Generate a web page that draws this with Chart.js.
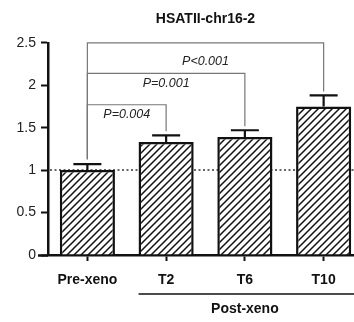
<!DOCTYPE html>
<html><head><meta charset="utf-8">
<script src="https://cdn.jsdelivr.net/npm/chart.js@4"></script>
<style>html,body{margin:0;padding:0;overflow:hidden;background:#fff;width:354px;height:322px}
#wrap{width:364px;height:322px;position:relative}</style></head>
<body><div id="wrap"><canvas id="c" width="364" height="322"></canvas></div>
<script>
const categories = ['Pre-xeno', 'T2', 'T6', 'T10'];
const means = [1.00, 1.33, 1.39, 1.75];
const errors = [0.07, 0.08, 0.08, 0.13];
const yTickValues = [0, 0.5, 1, 1.5, 2, 2.5];
const yTickLabels = ['0', '0.5', '1', '1.5', '2', '2.5'];
const compareFrom = [0, 0, 0];
const compareTo = [1, 2, 3];
const pLabels = ['P=0.004', 'P=0.001', 'P<0.001'];
const bracketLevels = [1.77, 2.14, 2.5];
const referenceLevel = 1;
const groupLabel = 'Post-xeno';
const groupMembers = [1, 3];
const titleText = 'HSATII-chr16-2';

const labelDrop = [10, 10, 19];
const FONT = '"Liberation Sans", Arial, Helvetica, sans-serif';

function hatch() {
  const s = 7, c = document.createElement('canvas');
  c.width = s; c.height = s;
  const x = c.getContext('2d');
  x.fillStyle = '#fff'; x.fillRect(0, 0, s, s);
  x.strokeStyle = '#111'; x.lineWidth = 1.5;
  x.beginPath();
  x.moveTo(-1, s + 1); x.lineTo(s + 1, -1);
  x.moveTo(-1, 1); x.lineTo(1, -1);
  x.moveTo(s - 1, s + 1); x.lineTo(s + 1, s - 1);
  x.stroke();
  return x.createPattern(c, 'repeat');
}

const extras = {
  id: 'extras',
  beforeDatasetsDraw(chart) {
    const { ctx, chartArea, scales } = chart;
    const y = scales.y.getPixelForValue(referenceLevel);
    ctx.save();
    ctx.strokeStyle = '#333'; ctx.lineWidth = 1.5; ctx.setLineDash([2, 2.5]);
    ctx.beginPath(); ctx.moveTo(chartArea.left + 2, y); ctx.lineTo(chartArea.right + 5, y); ctx.stroke();
    ctx.restore();
  },
  afterDatasetsDraw(chart) {
    const { ctx, chartArea, scales } = chart;
    const xs = scales.x, ys = scales.y;
    const meta = chart.getDatasetMeta(0);
    ctx.save();
    ctx.strokeStyle = '#111'; ctx.lineWidth = 2.2; ctx.lineCap = 'butt';
    means.forEach((m, i) => {
      const cx = xs.getPixelForValue(i);
      const yt = ys.getPixelForValue(m), ye = ys.getPixelForValue(m + errors[i]);
      ctx.beginPath();
      ctx.moveTo(cx, yt); ctx.lineTo(cx, ye);
      ctx.moveTo(cx - 14, ye); ctx.lineTo(cx + 14, ye);
      ctx.stroke();
    });
    ctx.strokeStyle = '#777'; ctx.lineWidth = 1.2;
    ctx.fillStyle = '#222';
    ctx.font = 'italic 12.5px ' + FONT;
    ctx.textAlign = 'center'; ctx.textBaseline = 'middle';
    pLabels.forEach((lab, k) => {
      const a = compareFrom[k], b = compareTo[k];
      const xa = xs.getPixelForValue(a), xb = xs.getPixelForValue(b);
      const yl = ys.getPixelForValue(bracketLevels[k]);
      const ya = ys.getPixelForValue(means[a] + errors[a]) - 5;
      const yb = ys.getPixelForValue(means[b] + errors[b]) - 4;
      ctx.beginPath();
      ctx.moveTo(xa, ya); ctx.lineTo(xa, yl); ctx.lineTo(xb, yl); ctx.lineTo(xb, yb);
      ctx.stroke();
      ctx.fillText(lab, (xa + xb) / 2, yl + labelDrop[k]);
    });
    ctx.strokeStyle = '#111'; ctx.lineWidth = 2.5;
    ctx.beginPath(); ctx.moveTo(chartArea.left - 10, chartArea.bottom + 0.5); ctx.lineTo(chartArea.left, chartArea.bottom + 0.5); ctx.stroke();
    const b0 = meta.data[groupMembers[0]], b1 = meta.data[groupMembers[1]];
    const gl = b0.x - b0.width / 2, gr = b1.x + b1.width / 2 + 10;
    const gy = chartArea.bottom + 39;
    ctx.lineWidth = 1.5;
    ctx.beginPath(); ctx.moveTo(gl, gy); ctx.lineTo(gr, gy); ctx.stroke();
    ctx.font = 'bold 14px ' + FONT; ctx.fillStyle = '#111';
    ctx.fillText(groupLabel, (gl + b1.x + b1.width / 2) / 2, gy + 15);
    ctx.restore();
  }
};

new Chart(document.getElementById('c'), {
  type: 'bar',
  data: {
    labels: categories,
    datasets: [{
      data: means,
      backgroundColor: hatch(),
      borderColor: '#111',
      borderWidth: 2.5,
      barPercentage: 0.7,
      categoryPercentage: 1
    }]
  },
  options: {
    responsive: false,
    devicePixelRatio: 1,
    animation: false,
    layout: { padding: { left: 0, right: 1, top: 0, bottom: 0 } },
    plugins: {
      legend: { display: false },
      tooltip: { enabled: false },
      title: {
        display: true, text: titleText, fullSize: false,
        color: '#111', font: { family: FONT, size: 14, weight: 'bold' },
        padding: { top: 11, bottom: 15 }
      }
    },
    scales: {
      x: {
        offset: true,
        grid: { offset: false, drawOnChartArea: false, drawTicks: true, tickLength: 6, tickWidth: 2, tickColor: '#111' },
        border: { color: '#111', width: 2.5 },
        ticks: { color: '#111', font: { family: FONT, size: 14, weight: 'bold' }, padding: 11, maxRotation: 0 },
        afterFit(s) { s.height = 67; }
      },
      y: {
        min: 0, max: 2.5,
        afterBuildTicks(s) { s.ticks = yTickValues.map(v => ({ value: v })); },
        grid: { drawOnChartArea: false, drawTicks: true, tickLength: 7, tickWidth: 2, tickColor: '#111' },
        border: { color: '#111', width: 2.5 },
        ticks: {
          color: '#222', font: { family: FONT, size: 14 }, padding: 5,
          callback: (v) => yTickLabels[yTickValues.indexOf(v)]
        },
        afterFit(s) { s.width = 48; }
      }
    }
  },
  plugins: [extras]
});
</script></body></html>
